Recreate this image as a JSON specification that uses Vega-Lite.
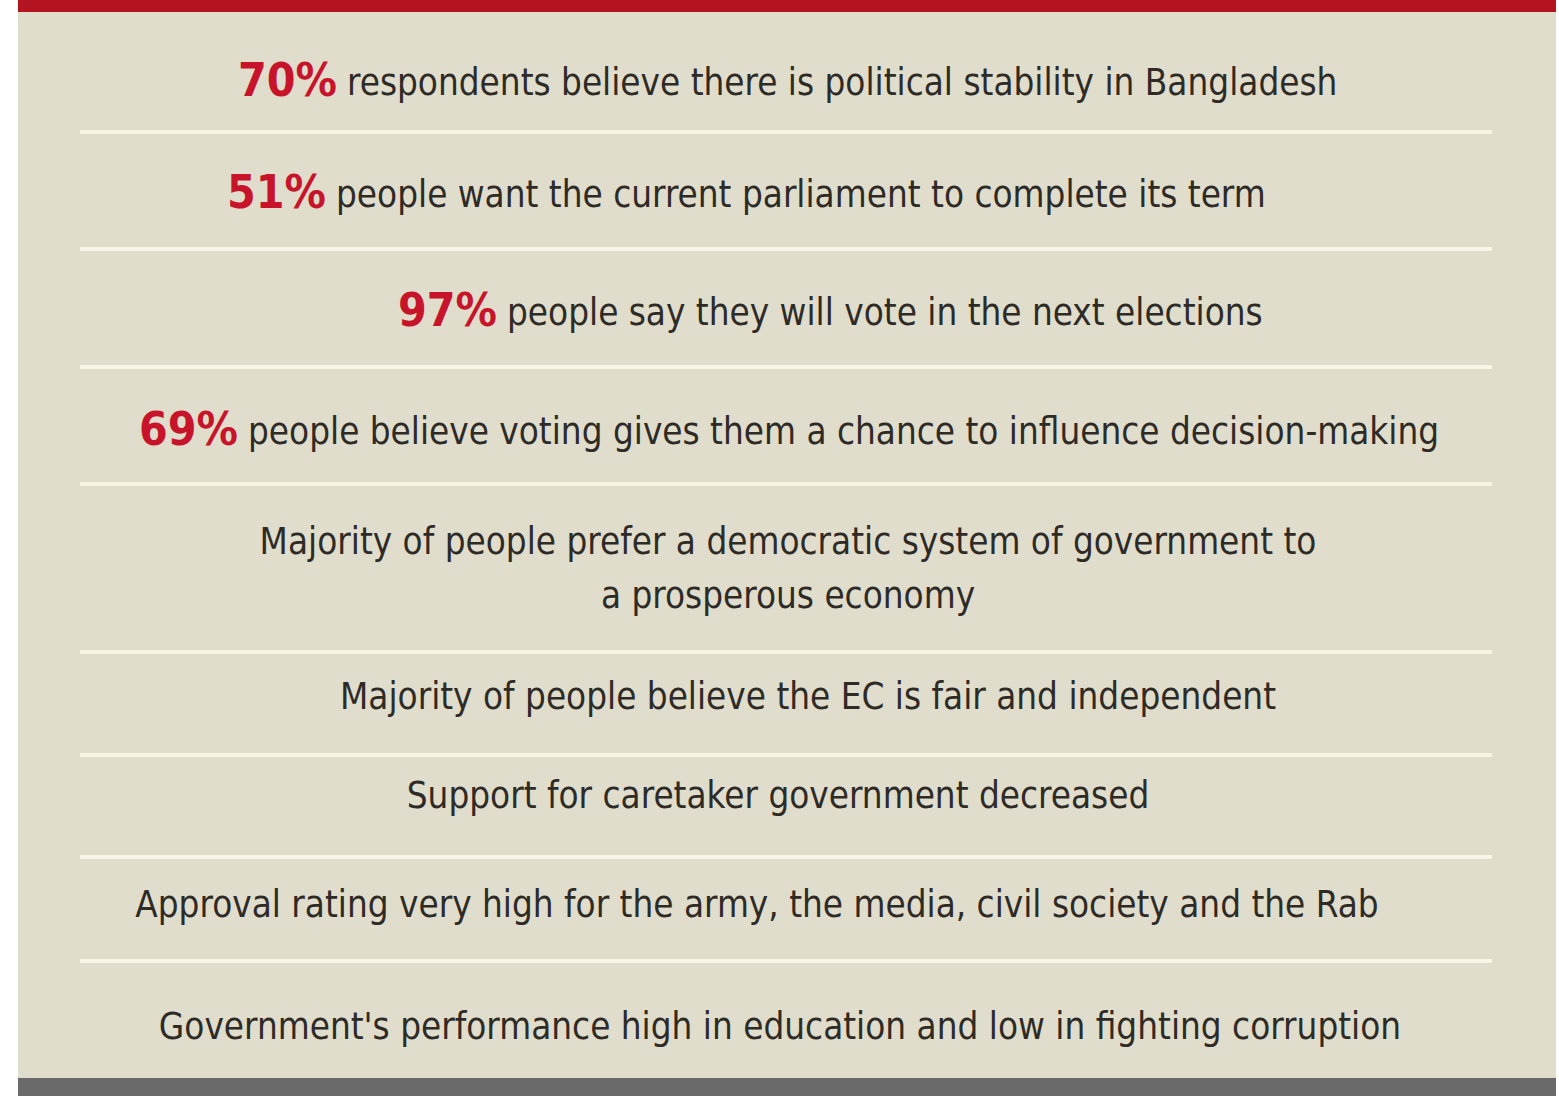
{
  "$schema": "https://vega.github.io/schema/vega-lite/v6.json",
  "width": 1538,
  "height": 1096,
  "padding": {"left": 18, "top": 0, "right": 3, "bottom": 0},
  "autosize": {"type": "none"},
  "background": "#ffffff",
  "config": {"view": {"fill": "#e0ddcc", "stroke": null}},
  "datasets": {
    "rows": [
      {"row": 1, "pct": "70%", "text": "respondents believe there is political stability in Bangladesh"},
      {"row": 2, "pct": "51%", "text": "people want the current parliament to complete its term"},
      {"row": 3, "pct": "97%", "text": "people say they will vote in the next elections"},
      {"row": 4, "pct": "69%", "text": "people believe voting gives them a chance to influence decision-making"},
      {"row": 5, "pct": "", "text": "Majority of people prefer a democratic system of government to\na prosperous economy"},
      {"row": 6, "pct": "", "text": "Majority of people believe the EC is fair and independent"},
      {"row": 7, "pct": "", "text": "Support for caretaker government decreased"},
      {"row": 8, "pct": "", "text": "Approval rating very high for the army, the media, civil society and the Rab"},
      {"row": 9, "pct": "", "text": "Government's performance high in education and low in fighting corruption"}
    ]
  },
  "data": {"name": "rows"},
  "resolve": {"scale": {"x": "independent", "y": "independent"}},
  "layer": [
    {
      "mark": {"type": "rect", "color": "#b3141f"},
      "encoding": {
        "y": {"datum": 0, "type": "quantitative", "scale": {"domain": [0, 1], "range": [0, 12]}, "axis": null},
        "y2": {"datum": 1}
      }
    },
    {
      "mark": {"type": "rect", "color": "#6a6a6a"},
      "encoding": {
        "y": {"datum": 0, "type": "quantitative", "scale": {"domain": [0, 1], "range": [1078, 1096]}, "axis": null},
        "y2": {"datum": 1}
      }
    },
    {
      "transform": [{"filter": "datum.row <= 8"}],
      "mark": {"type": "rule", "color": "#f8f4e6", "strokeWidth": 4},
      "encoding": {
        "y": {"field": "row", "type": "quantitative", "scale": {"domain": [1, 2, 3, 4, 5, 6, 7, 8], "range": [132, 249, 367, 484, 652, 755, 857, 961], "zero": false, "nice": false}, "axis": null},
        "x": {"datum": 0, "type": "quantitative", "scale": {"domain": [0, 1], "range": [62, 1474]}, "axis": null},
        "x2": {"datum": 1}
      }
    },
    {
      "transform": [{"filter": "datum.pct != ''"}],
      "mark": {"type": "text", "align": "right", "baseline": "middle", "dx": 0, "font": "DejaVu Sans Condensed, DejaVu Sans", "fontWeight": "bold", "fontSize": 46, "color": "#c8142b"},
      "encoding": {
        "text": {"field": "pct"},
        "x": {"field": "row", "type": "quantitative", "scale": {"domain": [1, 2, 3, 4], "range": [319, 308, 479, 220], "zero": false, "nice": false}, "axis": null},
        "y": {"field": "row", "type": "quantitative", "scale": {"domain": [1, 2, 3, 4], "range": [82, 194, 312, 431], "zero": false, "nice": false}, "axis": null}
      }
    },
    {
      "transform": [{"filter": "datum.pct != ''"}],
      "mark": {"type": "text", "align": "left", "baseline": "middle", "dx": 10, "font": "DejaVu Sans Condensed, DejaVu Sans", "fontSize": 36.5, "color": "#2e2b27"},
      "encoding": {
        "text": {"field": "text"},
        "x": {"field": "row", "type": "quantitative", "scale": {"domain": [1, 2, 3, 4], "range": [319, 308, 479, 220], "zero": false, "nice": false}, "axis": null},
        "y": {"field": "row", "type": "quantitative", "scale": {"domain": [1, 2, 3, 4], "range": [84, 196, 314, 433], "zero": false, "nice": false}, "axis": null}
      }
    },
    {
      "transform": [{"filter": "datum.pct == ''"}],
      "mark": {"type": "text", "align": "center", "baseline": "middle", "lineBreak": "\n", "lineHeight": 54, "font": "DejaVu Sans Condensed, DejaVu Sans", "fontSize": 36.5, "color": "#2e2b27"},
      "encoding": {
        "text": {"field": "text"},
        "x": {"field": "row", "type": "quantitative", "scale": {"domain": [5, 6, 7, 8, 9], "range": [770, 790, 760, 739, 762], "zero": false, "nice": false}, "axis": null},
        "y": {"field": "row", "type": "quantitative", "scale": {"domain": [5, 6, 7, 8, 9], "range": [543, 698, 797, 906, 1028], "zero": false, "nice": false}, "axis": null}
      }
    }
  ]
}
